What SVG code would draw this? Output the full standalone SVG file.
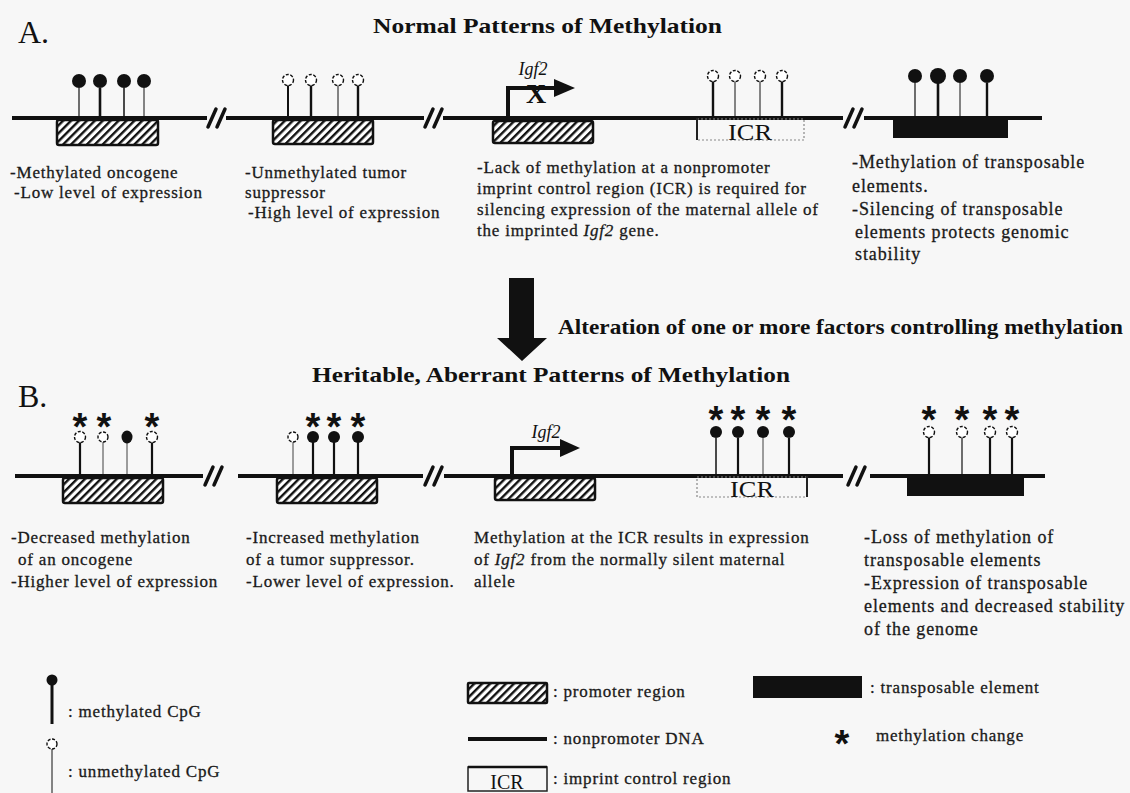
<svg xmlns="http://www.w3.org/2000/svg" width="1130" height="793" viewBox="0 0 1130 793">
<style>
.bg{fill:#f7f7f7}
.txt{font-family:"Liberation Serif","Times New Roman",serif;font-size:17px;fill:#1a1a1a;stroke:#1a1a1a;stroke-width:0.3;letter-spacing:0.8px}
.txt4{font-size:18px;letter-spacing:0.9px}
.lbl{font-family:"Liberation Serif","Times New Roman",serif;fill:#111}
.title{font-family:"Liberation Serif","Times New Roman",serif;font-weight:bold;font-size:21px;fill:#111}
.dna{stroke:#111;stroke-width:4;fill:none}
.brk{stroke:#111;stroke-width:3.5;stroke-linecap:round}
.hatch{fill:url(#hatch);stroke:#111;stroke-width:2.5}
.te{fill:#111}
.icr{fill:none;stroke:#888;stroke-width:1.2;stroke-dasharray:2 2}
.icrl{stroke:#222;stroke-width:2}
.st{stroke:#111}
.me{fill:#111}
.un{fill:#fff;stroke:#111;stroke-width:1.4;stroke-dasharray:3 1.6}
.ast{font-family:"Liberation Sans",Arial,sans-serif;font-weight:bold;font-size:38px;fill:#111;text-anchor:middle}
.arr{stroke:#111;stroke-width:4;fill:none}
</style>
<defs>
<pattern id="hatch" patternUnits="userSpaceOnUse" width="5.6" height="5.6" patternTransform="rotate(45)">
<rect width="5.6" height="5.6" fill="#fff"/>
<rect width="2.4" height="5.6" fill="#111"/>
</pattern>
</defs>
<rect class="bg" x="0" y="0" width="1130" height="793"/>

<g id="panel-labels">
<text class="lbl" x="18" y="43" font-size="32">A.</text>
<text class="lbl" x="18" y="407" font-size="32">B.</text>
<text class="title" x="373" y="33" textLength="349" lengthAdjust="spacingAndGlyphs">Normal Patterns of Methylation</text>
<text class="title" x="312" y="382" textLength="478" lengthAdjust="spacingAndGlyphs">Heritable, Aberrant Patterns of Methylation</text>
</g>

<g id="connectors">
<line class="dna" x1="12" y1="118" x2="207" y2="118"/>
<line class="dna" x1="226" y1="118" x2="424" y2="118"/>
<line class="dna" x1="443" y1="118" x2="843" y2="118"/>
<line class="dna" x1="864" y1="118" x2="1042" y2="118"/>
<line class="dna" x1="15" y1="476" x2="203" y2="476"/>
<line class="dna" x1="238" y1="476" x2="423" y2="476"/>
<line class="dna" x1="444" y1="476" x2="843" y2="476"/>
<line class="dna" x1="870" y1="476" x2="1045" y2="476"/>
<g id="breaks">
<path class="brk" d="M208 127 L216 109 M217 127 L225 109"/>
<path class="brk" d="M425 127 L433 109 M434 127 L442 109"/>
<path class="brk" d="M845 127 L853 109 M854 127 L862 109"/>
<path class="brk" d="M205 485 L213 467 M214 485 L222 467"/>
<path class="brk" d="M425 485 L433 467 M434 485 L442 467"/>
<path class="brk" d="M848 485 L856 467 M857 485 L865 467"/>
</g>
<g id="big-arrow">
<polygon points="509,278 534,278 534,338 547,338 522,361 497,338 509,338" fill="#111"/>
</g>
<text class="title" x="558" y="334" font-size="18" textLength="565" lengthAdjust="spacingAndGlyphs">Alteration of one or more factors controlling methylation</text>
</g>

<!-- Panel A -->
<g id="a-oncogene">
<rect class="hatch" x="57" y="120" width="101" height="25" rx="2"/>
<line class="st" x1="79" y1="88" x2="79" y2="118" stroke-width="1.2"/>
<line class="st" x1="100" y1="88" x2="100" y2="118" stroke-width="2.6"/>
<line class="st" x1="124" y1="88" x2="124" y2="118" stroke-width="1.5"/>
<line class="st" x1="144" y1="88" x2="144" y2="118" stroke-width="1"/>
<circle class="me" cx="79" cy="81" r="7"/>
<circle class="me" cx="100" cy="81" r="7"/>
<circle class="me" cx="124" cy="81" r="7"/>
<circle class="me" cx="144" cy="81" r="7"/>
<text class="txt" x="10" y="178">-Methylated oncogene</text>
<text class="txt" x="14" y="198">-Low level of expression</text>
</g>

<g id="a-suppressor">
<rect class="hatch" x="273" y="120" width="100" height="24" rx="2"/>
<line class="st" x1="288" y1="85" x2="288" y2="118" stroke-width="2"/>
<line class="st" x1="311" y1="85" x2="311" y2="118" stroke-width="2.4"/>
<line class="st" x1="338" y1="85" x2="338" y2="118" stroke-width="1"/>
<line class="st" x1="358" y1="85" x2="358" y2="118" stroke-width="2.4"/>
<circle class="un" cx="288" cy="80" r="5.5"/>
<circle class="un" cx="311" cy="80" r="5.5"/>
<circle class="un" cx="338" cy="80" r="5.5"/>
<circle class="un" cx="358" cy="80" r="5.5"/>
<text class="txt" x="245" y="178">-Unmethylated tumor</text>
<text class="txt" x="245" y="198">suppressor</text>
<text class="txt" x="248" y="218">-High level of expression</text>
</g>

<g id="a-igf2">
<rect class="hatch" x="493" y="121" width="100" height="22" rx="2"/>
<path class="arr" d="M508 118 V88 H556"/>
<polygon points="554,79 575,88 554,97" fill="#111"/>
<text class="lbl" x="533" y="75" font-size="18" font-style="italic" text-anchor="middle">Igf2</text>
<text class="lbl" x="536" y="103" font-size="28" font-weight="bold" text-anchor="middle">X</text>
<text class="txt" x="477" y="173">-Lack of methylation at a nonpromoter</text>
<text class="txt" x="477" y="194">imprint control region (ICR) is required for</text>
<text class="txt" x="477" y="215">silencing expression of the maternal allele of</text>
<text class="txt" x="477" y="236">the imprinted <tspan font-style="italic">Igf2</tspan> gene.</text>
</g>

<g id="a-icr">
<rect class="icr" x="697" y="119" width="107" height="21"/>
<line class="icrl" x1="697" y1="118" x2="697" y2="140"/>
<text class="lbl" x="750" y="140" font-size="24" text-anchor="middle" textLength="44" lengthAdjust="spacingAndGlyphs">ICR</text>
<line class="st" x1="713" y1="81" x2="713" y2="118" stroke-width="2.4"/>
<line class="st" x1="735" y1="81" x2="735" y2="118" stroke-width="1"/>
<line class="st" x1="760" y1="81" x2="760" y2="118" stroke-width="1"/>
<line class="st" x1="782" y1="81" x2="782" y2="118" stroke-width="2.4"/>
<circle class="un" cx="713" cy="76" r="5.5"/>
<circle class="un" cx="735" cy="76" r="5.5"/>
<circle class="un" cx="760" cy="76" r="5.5"/>
<circle class="un" cx="782" cy="76" r="5.5"/>
</g>

<g id="a-transposon">
<rect class="te" x="893" y="119" width="115" height="19"/>
<line class="st" x1="915" y1="83" x2="915" y2="118" stroke-width="1.2"/>
<line class="st" x1="938" y1="83" x2="938" y2="118" stroke-width="2.6"/>
<line class="st" x1="960" y1="83" x2="960" y2="118" stroke-width="1"/>
<line class="st" x1="987" y1="83" x2="987" y2="118" stroke-width="2.4"/>
<circle class="me" cx="915" cy="76" r="7"/>
<circle class="me" cx="938" cy="76" r="8"/>
<circle class="me" cx="960" cy="76" r="7"/>
<circle class="me" cx="987" cy="76" r="7"/>
<text class="txt txt4" x="852" y="168">-Methylation of transposable</text>
<text class="txt txt4" x="852" y="192">elements.</text>
<text class="txt txt4" x="852" y="215">-Silencing of transposable</text>
<text class="txt txt4" x="855" y="238">elements protects genomic</text>
<text class="txt txt4" x="855" y="260">stability</text>
</g>

<!-- Panel B -->
<g id="b-oncogene">
<rect class="hatch" x="63" y="478" width="100" height="25" rx="2"/>
<line class="st" x1="80" y1="442" x2="80" y2="476" stroke-width="2.2"/>
<line class="st" x1="103" y1="442" x2="103" y2="476" stroke-width="0.8"/>
<line class="st" x1="127" y1="442" x2="127" y2="476" stroke-width="0.8"/>
<line class="st" x1="152" y1="442" x2="152" y2="476" stroke-width="2.2"/>
<circle class="un" cx="80" cy="437" r="5.5"/>
<circle class="un" cx="103" cy="437" r="5" stroke-width="1"/>
<ellipse class="me" cx="127" cy="437" rx="5.5" ry="6.5"/>
<circle class="un" cx="152" cy="437" r="5.5"/>
<text class="ast" x="80" y="440">*</text>
<text class="ast" x="104" y="440">*</text>
<text class="ast" x="152" y="440">*</text>
<text class="txt" x="11" y="543">-Decreased methylation</text>
<text class="txt" x="18" y="565">of an oncogene</text>
<text class="txt" x="11" y="587">-Higher level of expression</text>
</g>

<g id="b-suppressor">
<rect class="hatch" x="277" y="478" width="100" height="25" rx="2"/>
<line class="st" x1="293" y1="442" x2="293" y2="476" stroke-width="0.8"/>
<line class="st" x1="313" y1="442" x2="313" y2="476" stroke-width="2.2"/>
<line class="st" x1="334" y1="442" x2="334" y2="476" stroke-width="2.2"/>
<line class="st" x1="358" y1="442" x2="358" y2="476" stroke-width="2.2"/>
<circle class="un" cx="293" cy="437" r="5" stroke-width="1"/>
<circle class="me" cx="313" cy="437" r="6"/>
<circle class="me" cx="334" cy="437" r="6"/>
<circle class="me" cx="358" cy="437" r="6"/>
<text class="ast" x="313" y="440">*</text>
<text class="ast" x="334" y="440">*</text>
<text class="ast" x="358" y="440">*</text>
<text class="txt" x="246" y="543">-Increased methylation</text>
<text class="txt" x="246" y="565">of a tumor suppressor.</text>
<text class="txt" x="246" y="587">-Lower level of expression.</text>
</g>

<g id="b-igf2">
<rect class="hatch" x="495" y="478" width="100" height="22" rx="2"/>
<path class="arr" d="M512 476 V448 H562"/>
<polygon points="560,439 580,448 560,457" fill="#111"/>
<text class="lbl" x="546" y="438" font-size="18" font-style="italic" text-anchor="middle">Igf2</text>
<text class="txt" x="474" y="543">Methylation at the ICR results in expression</text>
<text class="txt" x="474" y="565">of <tspan font-style="italic">Igf2</tspan> from the normally silent maternal</text>
<text class="txt" x="474" y="587">allele</text>
</g>

<g id="b-icr">
<rect class="icr" x="697" y="477" width="110" height="20"/>
<line class="icrl" x1="807" y1="476" x2="807" y2="497"/>
<text class="lbl" x="752" y="497" font-size="24" text-anchor="middle" textLength="44" lengthAdjust="spacingAndGlyphs">ICR</text>
<line class="st" x1="716" y1="438" x2="716" y2="476" stroke-width="1.5"/>
<line class="st" x1="738" y1="438" x2="738" y2="476" stroke-width="2.2"/>
<line class="st" x1="763" y1="438" x2="763" y2="476" stroke-width="0.8"/>
<line class="st" x1="789" y1="438" x2="789" y2="476" stroke-width="2.2"/>
<circle class="me" cx="716" cy="432" r="6"/>
<circle class="me" cx="738" cy="432" r="6"/>
<circle class="me" cx="763" cy="432" r="6"/>
<circle class="me" cx="789" cy="432" r="6"/>
<text class="ast" x="716" y="433">*</text>
<text class="ast" x="738" y="433">*</text>
<text class="ast" x="763" y="433">*</text>
<text class="ast" x="789" y="433">*</text>
</g>

<g id="b-transposon">
<rect class="te" x="907" y="476" width="117" height="20"/>
<line class="st" x1="929" y1="437" x2="929" y2="476" stroke-width="2.2"/>
<line class="st" x1="962" y1="437" x2="962" y2="476" stroke-width="1.2"/>
<line class="st" x1="990" y1="437" x2="990" y2="476" stroke-width="2.2"/>
<line class="st" x1="1012" y1="437" x2="1012" y2="476" stroke-width="2.2"/>
<circle class="un" cx="929" cy="432" r="5.5"/>
<circle class="un" cx="962" cy="432" r="5.5"/>
<circle class="un" cx="990" cy="432" r="5.5"/>
<circle class="un" cx="1012" cy="432" r="5.5"/>
<text class="ast" x="929" y="433">*</text>
<text class="ast" x="962" y="433">*</text>
<text class="ast" x="990" y="433">*</text>
<text class="ast" x="1012" y="433">*</text>
<text class="txt txt4" x="864" y="543">-Loss of methylation of</text>
<text class="txt txt4" x="864" y="566">transposable elements</text>
<text class="txt txt4" x="864" y="589">-Expression of transposable</text>
<text class="txt txt4" x="864" y="612">elements and decreased stability</text>
<text class="txt txt4" x="864" y="635">of the genome</text>
</g>

<!-- Legend -->
<g id="legend-methylated">
<line class="st" x1="52" y1="684" x2="52" y2="724" stroke-width="3"/>
<circle class="me" cx="52" cy="680" r="5.5"/>
<text class="txt" x="68" y="717">: methylated CpG</text>
</g>
<g id="legend-unmethylated">
<line class="st" x1="52" y1="749" x2="52" y2="793" stroke-width="1"/>
<circle class="un" cx="52" cy="744" r="5" stroke-width="1"/>
<text class="txt" x="68" y="777">: unmethylated CpG</text>
</g>
<g id="legend-promoter">
<rect class="hatch" x="468" y="683" width="79" height="20" rx="1"/>
<text class="txt" x="553" y="697">: promoter region</text>
</g>
<g id="legend-nonpromoter">
<line class="dna" x1="468" y1="739" x2="547" y2="739"/>
<text class="txt" x="553" y="744">: nonpromoter DNA</text>
</g>
<g id="legend-icr">
<rect x="468" y="767" width="79" height="24" fill="none" stroke="#222" stroke-width="1.5"/>
<line x1="468" y1="767" x2="547" y2="767" stroke="#111" stroke-width="2.5"/>
<text class="lbl" x="507" y="789" font-size="20" text-anchor="middle">ICR</text>
<text class="txt" x="553" y="784">: imprint control region</text>
</g>
<g id="legend-transposon">
<rect class="te" x="753" y="676" width="109" height="22"/>
<text class="txt" x="870" y="693">: transposable element</text>
</g>
<g id="legend-change">
<text class="ast" x="842" y="757">*</text>
<text class="txt" x="876" y="741">methylation change</text>
</g>
</svg>
